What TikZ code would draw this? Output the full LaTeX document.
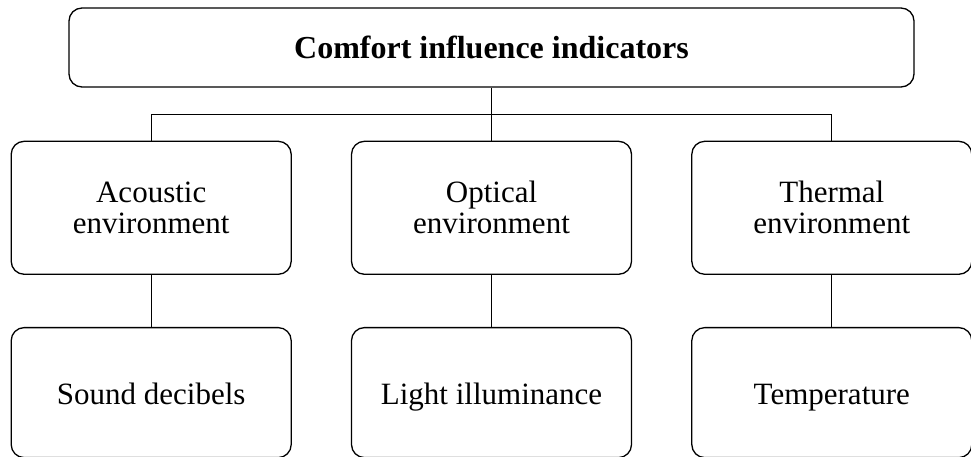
\documentclass[tikz,border=0pt]{standalone}
\usepackage{fontspec}
\setmainfont{Liberation Serif}
\usetikzlibrary{positioning}

\begin{document}
\begin{tikzpicture}[node distance=53pt and 59pt,
box/.style={rectangle,rounded corners=13pt,draw,line width=1.3pt,align=center,
  font=\fontsize{31}{31}\selectfont,minimum width=280pt,minimum height=133pt,inner sep=0pt},
leaf/.style={box,minimum height=130pt,text height=24pt,text depth=0.6pt},
link/.style={line width=0.9pt}]
\useasboundingbox (0,0) rectangle (971pt,-457pt);
\node[box,minimum width=845pt,minimum height=79pt,font=\fontsize{32}{32}\selectfont](top) at (491.5pt,-47.5pt){\textbf{Comfort influence indicators}};
\node[box,below=of top](opt){Optical\\environment};
\node[box,left=of opt](acou){Acoustic\\environment};
\node[box,right=of opt](therm){Thermal\\environment};
\node[leaf,below=52pt of acou](sound){Sound decibels};
\node[leaf,below=52pt of opt](light){Light illuminance};
\node[leaf,below=52pt of therm](temp){Temperature};
\coordinate[below=26.5pt of top.south](fork);
\draw[link](top.south)--(fork);
\draw[link](fork)-|(acou.north);
\draw[link](fork)--(opt.north);
\draw[link](fork)-|(therm.north);
\draw[link](acou)--(sound);
\draw[link](opt)--(light);
\draw[link](therm)--(temp);
\end{tikzpicture}
\end{document}
